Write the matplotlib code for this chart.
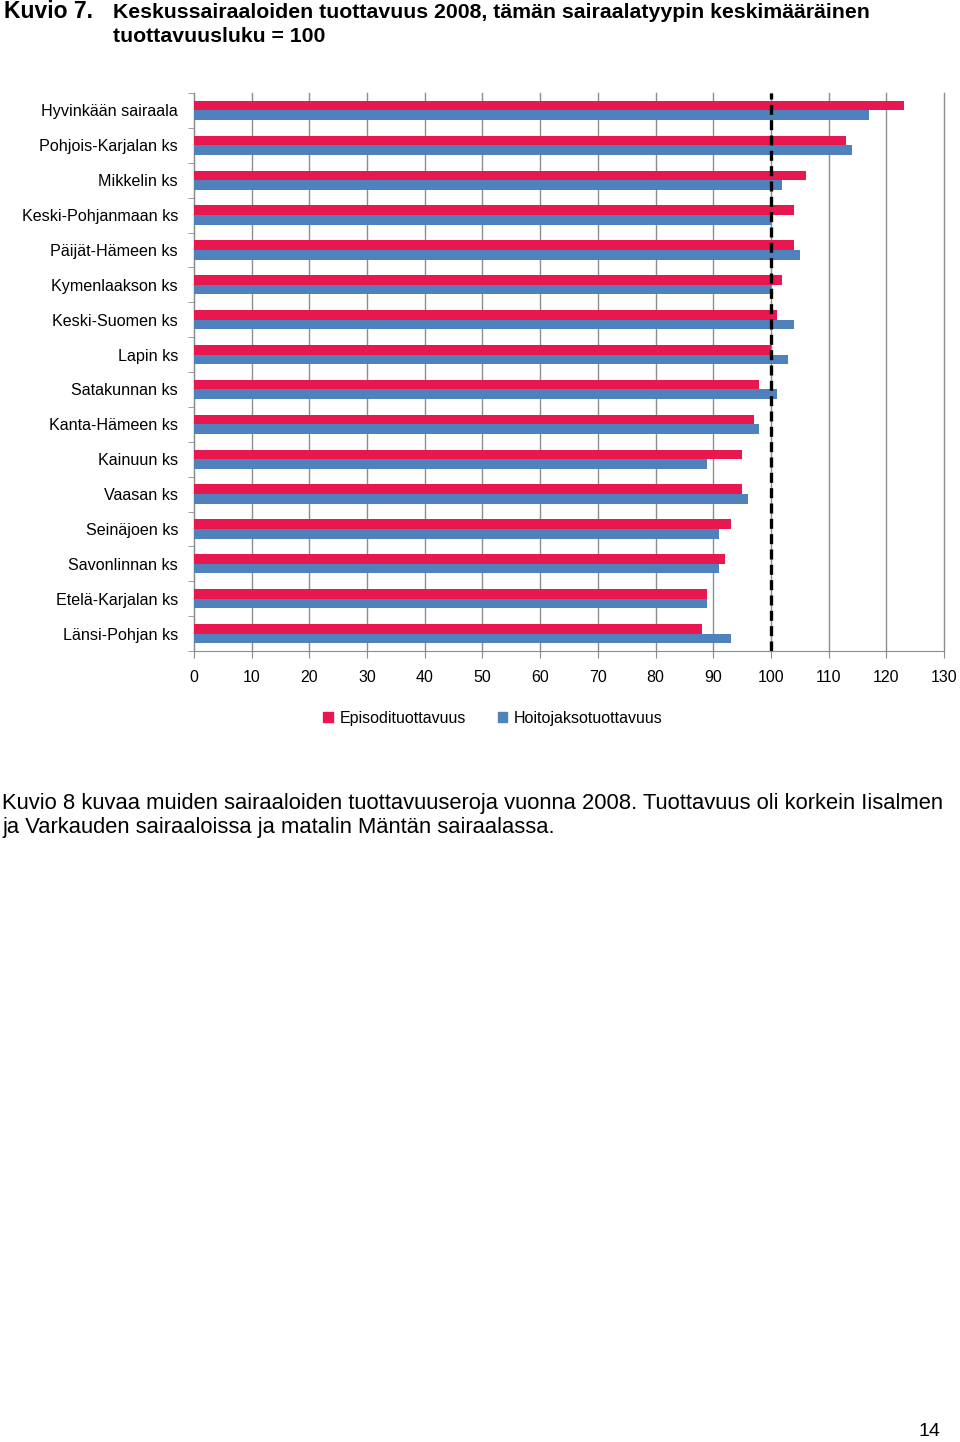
import numpy as np
import matplotlib.pyplot as plt
from matplotlib.patches import Patch

plt.rcParams["font.family"] = ["Liberation Sans", "DejaVu Sans"]

hospitals = [
    "Hyvinkään sairaala", "Pohjois-Karjalan ks", "Mikkelin ks", "Keski-Pohjanmaan ks",
    "Päijät-Hämeen ks", "Kymenlaakson ks", "Keski-Suomen ks", "Lapin ks",
    "Satakunnan ks", "Kanta-Hämeen ks", "Kainuun ks", "Vaasan ks",
    "Seinäjoen ks", "Savonlinnan ks", "Etelä-Karjalan ks", "Länsi-Pohjan ks",
]
episode = [123, 113, 106, 104, 104, 102, 101, 100, 98, 97, 95, 95, 93, 92, 89, 88]
care_period = [117, 114, 102, 100, 105, 100, 104, 103, 101, 98, 89, 96, 91, 91, 89, 93]
ticks = list(range(0, 131, 10))

RED = "#E8174F"
BLUE = "#4F81BD"
GRID = "#8C8C8C"

fig = plt.figure(figsize=(9.6, 14.42), dpi=100)
ax = fig.add_axes([194 / 960, 1 - 651 / 1442, 750 / 960, 558 / 1442])

y = np.arange(len(hospitals))
h = 0.275
ax.barh(y - h / 2, episode, height=h, color=RED, zorder=3)
ax.barh(y + h / 2, care_period, height=h, color=BLUE, zorder=3)
ax.axvline(100, color="black", lw=2.4, ls=(0, (3, 1.6)), zorder=4)

ax.set_xlim(0, 130)
ax.set_ylim(len(hospitals) - 0.5, -0.5)
ax.set_xticks(ticks)
ax.set_xticklabels([str(t) for t in ticks], fontsize=11.5)
ax.set_yticks(y)
ax.set_yticklabels(hospitals, fontsize=11.6)
ax.set_yticks(np.arange(len(hospitals) + 1) - 0.5, minor=True)
ax.tick_params(axis="y", which="major", length=0, pad=11.5)
ax.tick_params(axis="y", which="minor", length=4, color=GRID)
ax.tick_params(axis="x", length=5, color=GRID, pad=9)
ax.xaxis.grid(True, color=GRID, lw=1, zorder=0)
for gl in ax.get_xgridlines():
    gl.set_clip_on(False)
for s in ["top", "right"]:
    ax.spines[s].set_visible(False)
for s in ["left", "bottom"]:
    ax.spines[s].set_color(GRID)

handles = [Patch(color=RED), Patch(color=BLUE)]
fig.legend(handles, ["Episodituottavuus", "Hoitojaksotuottavuus"],
           loc="center", bbox_to_anchor=(493 / 960, 1 - 718 / 1442), ncol=2,
           frameon=False, fontsize=11.5, handlelength=0.6, handleheight=0.6,
           handletextpad=0.4, columnspacing=2.0)

fig.text(4 / 960, 1 - 12 / 1442, "Kuvio 7.", fontsize=16.5, weight="bold", va="center")
fig.text(113 / 960, 1 - 12 / 1442,
         "Keskussairaaloiden tuottavuus 2008, tämän sairaalatyypin keskimääräinen",
         fontsize=15.3, weight="bold", va="center")
fig.text(113 / 960, 1 - 36 / 1442, "tuottavuusluku = 100",
         fontsize=15.3, weight="bold", va="center")

body = ["Kuvio 8 kuvaa muiden sairaaloiden tuottavuuseroja vuonna 2008. Tuottavuus oli korkein Iisalmen",
        "ja Varkauden sairaaloissa ja matalin Mäntän sairaalassa."]
fig.text(2 / 960, 1 - 803 / 1442, body[0], fontsize=15.8, va="center")
fig.text(2 / 960, 1 - 828 / 1442, body[1], fontsize=15.8, va="center")
fig.text(940 / 960, 1 - 1431 / 1442, "14", fontsize=14, ha="right", va="center")

fig.savefig("out.png", dpi=100)
